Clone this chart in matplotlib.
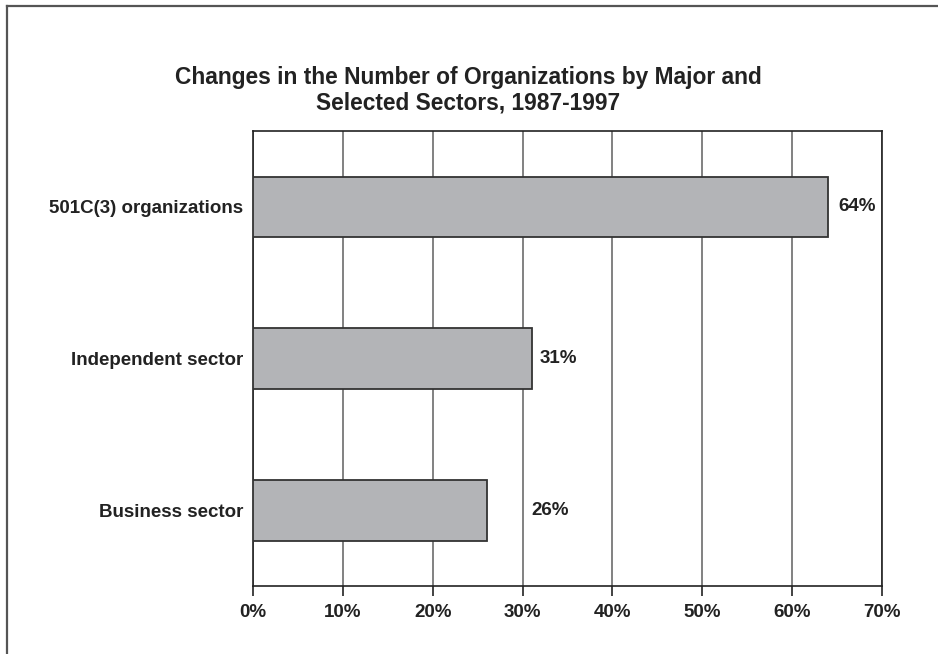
import matplotlib
matplotlib.use("Agg")
import matplotlib.pyplot as plt
from matplotlib.lines import Line2D

plt.rcParams['font.family'] = ['Liberation Sans', 'DejaVu Sans']
plt.rcParams['font.weight'] = 'bold'

# sectors and percent change 1987-1997
sectors = ['501C(3) organizations', 'Independent sector', 'Business sector']
changes = [64, 31, 26]
labels = ['64%', '31%', '26%']
label_offsets = [10, 8, 45]   # pixels past the end of each bar
xticks = [0, 10, 20, 30, 40, 50, 60, 70]

text_color = '#222222'
fs = 13.5

fig = plt.figure(figsize=(9.38, 6.54), dpi=100)
ax = fig.add_axes([253 / 938, 1 - 586 / 654, 629 / 938, 455 / 654])

ypos = list(range(len(sectors)))
ax.barh(ypos, changes, height=0.4, color='#b3b4b7', edgecolor='#333333',
        linewidth=1.3, zorder=3)

for y, v, lab, off in zip(ypos, changes, labels, label_offsets):
    ax.annotate(lab, xy=(v, y), xytext=(off * 0.72, 0), textcoords='offset points',
                ha='left', va='center', fontsize=fs, fontweight='bold',
                color=text_color)

ax.set_xlim(0, 70)
ax.set_ylim(2.5, -0.5)
ax.set_xticks(xticks)
ax.set_xticklabels([f'{t}%' for t in xticks])
ax.set_yticks(ypos)
ax.set_yticklabels(sectors)

ax.xaxis.grid(True, color='#777777', linewidth=1.3, zorder=0)
ax.set_axisbelow(True)
ax.tick_params(axis='x', direction='out', length=7, width=1.2, color='#222222',
               labelsize=fs, labelcolor=text_color, pad=6)
ax.tick_params(axis='y', length=0, labelsize=fs, labelcolor=text_color, pad=7)
for s in ax.spines.values():
    s.set_linewidth(1.2)
    s.set_color('#222222')

fig.text(0.499, 1 - 90 / 654,
         'Changes in the Number of Organizations by Major and\nSelected Sectors, 1987-1997',
         ha='center', va='center', fontsize=16.4, fontweight='bold',
         color=text_color, linespacing=1.15)

# outer frame (left and top edges)
fig.add_artist(Line2D([7 / 938, 7 / 938], [0, 1 - 6 / 654], transform=fig.transFigure,
                      color='#555555', linewidth=1.6))
fig.add_artist(Line2D([7 / 938, 1], [1 - 6 / 654, 1 - 6 / 654], transform=fig.transFigure,
                      color='#555555', linewidth=1.6))

fig.savefig('out.png', dpi=100)
